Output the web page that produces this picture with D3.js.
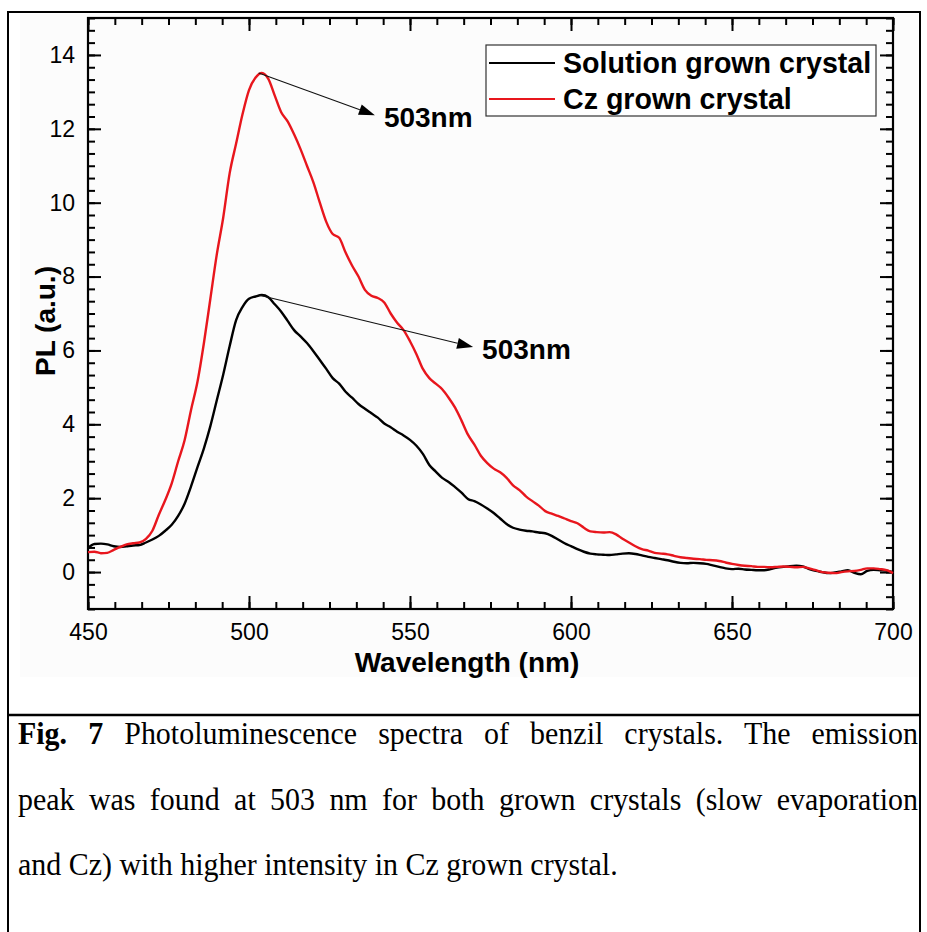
<!DOCTYPE html>
<html>
<head>
<meta charset="utf-8">
<script src="https://cdn.jsdelivr.net/npm/d3@7"></script>
<style>
  body { margin: 0; background: #fff; }
  svg { display: block; }
</style>
</head>
<body>
<svg id="chart" width="927" height="932"></svg>
<script>
// Photoluminescence spectra of benzil crystals
const wavelength = [
  450,452,454,456,458,460,462,464,466,468,470,472,474,476,478,480,482,484,486,488,
  490,492,494,496,498,500,502,504,506,508,510,512,514,516,518,520,522,524,526,528,
  530,532,534,536,538,540,542,544,546,548,550,552,554,556,558,560,562,564,566,568,
  570,572,574,576,578,580,582,584,586,588,590,592,594,596,598,600,602,604,606,608,
  610,612,614,616,618,620,622,624,626,628,630,632,634,636,638,640,642,644,646,648,
  650,652,654,656,658,660,662,664,666,668,670,672,674,676,678,680,682,684,686,688,
  690,692,694,696,698,700
];
const solutionPL = [
  0.65,0.76,0.77,0.75,0.70,0.68,0.70,0.72,0.73,0.80,0.88,0.98,1.12,1.28,1.52,1.85,2.32,2.84,3.35,3.95,
  4.65,5.35,6.12,6.82,7.18,7.40,7.46,7.50,7.44,7.25,7.05,6.80,6.55,6.38,6.20,5.98,5.74,5.50,5.25,5.10,
  4.88,4.72,4.55,4.42,4.30,4.18,4.02,3.92,3.80,3.70,3.58,3.42,3.20,2.90,2.72,2.55,2.44,2.30,2.15,1.98,
  1.92,1.83,1.72,1.60,1.45,1.30,1.20,1.15,1.12,1.10,1.07,1.05,0.98,0.88,0.78,0.70,0.62,0.55,0.50,0.48,
  0.47,0.46,0.48,0.50,0.51,0.49,0.45,0.41,0.38,0.35,0.32,0.28,0.25,0.24,0.25,0.24,0.22,0.18,0.14,0.10,
  0.08,0.09,0.07,0.06,0.05,0.05,0.08,0.12,0.14,0.16,0.17,0.15,0.08,0.03,0.00,-0.03,-0.01,0.02,0.05,-0.02,
  -0.06,0.03,0.06,0.05,0.04,0.00
];
const czPL = [
  0.54,0.55,0.51,0.52,0.60,0.68,0.75,0.78,0.80,0.90,1.12,1.55,1.95,2.40,3.00,3.57,4.39,5.15,6.20,7.40,
  8.60,9.60,10.80,11.60,12.40,13.05,13.38,13.51,13.35,12.90,12.45,12.20,11.85,11.45,11.00,10.55,10.00,9.48,9.15,9.05,
  8.65,8.30,8.00,7.64,7.48,7.42,7.30,7.00,6.75,6.55,6.25,5.90,5.50,5.25,5.10,4.95,4.72,4.45,4.10,3.72,
  3.45,3.15,2.95,2.80,2.70,2.55,2.35,2.22,2.05,1.92,1.80,1.65,1.58,1.52,1.45,1.38,1.32,1.20,1.10,1.08,
  1.07,1.08,1.02,0.90,0.80,0.70,0.62,0.58,0.52,0.50,0.48,0.44,0.40,0.38,0.36,0.35,0.33,0.32,0.30,0.26,
  0.22,0.19,0.17,0.16,0.14,0.14,0.13,0.14,0.15,0.14,0.13,0.14,0.10,0.05,0.00,-0.02,-0.03,0.00,0.02,0.03,
  0.06,0.10,0.10,0.08,0.05,-0.03
];
const seriesNames = ["Solution grown crystal", "Cz grown crystal"];
const xTickValues = [450, 500, 550, 600, 650, 700];
const yTickValues = [0, 2, 4, 6, 8, 10, 12, 14];
const peakWavelength = 503;
const peakLabel = "503nm";
// where each peak arrow ends, in (wavelength, PL) units
const arrowTips = [[539.1, 12.37], [569.6, 6.09]];
const xTitle = "Wavelength (nm)";
const yTitle = "PL (a.u.)";
const captionLines = [
  [{ text: "Fig. 7", bold: true }, { text: " Photoluminescence spectra of benzil crystals. The emission" }],
  [{ text: "peak was found at 503 nm for both grown crystals (slow evaporation" }],
  [{ text: "and Cz) with higher intensity in Cz grown crystal." }]
];

const svg = d3.select("#chart");
const sans = "'Liberation Sans', Arial, sans-serif";
const serif = "'Liberation Serif', 'Times New Roman', serif";
const RED = "#e8161d";

// outer frame and caption divider
svg.append("rect").attr("x", 20).attr("y", 14).attr("width", 898).attr("height", 663).attr("fill", "#fcfcfc");
svg.append("rect").attr("x", 8).attr("y", 12).attr("width", 912).attr("height", 940)
  .attr("fill", "none").attr("stroke", "#000").attr("stroke-width", 2);
svg.append("line").attr("x1", 8).attr("x2", 920).attr("y1", 715).attr("y2", 715)
  .attr("stroke", "#000").attr("stroke-width", 2.5);

const plot = { left: 88, right: 893, top: 18, bottom: 609 };
const x = d3.scaleLinear().domain([450, 700]).range([plot.left, plot.right]);
const y = d3.scaleLinear().domain([-1, 15]).range([plot.bottom, plot.top]);

const xMinor = d3.range(450, 700.001, 50 / 6);
const yMinor = d3.range(-1, 15.001, 1 / 3);

function styleAxis(g) {
  g.select(".domain").remove();
  g.selectAll(".tick line").attr("stroke", "#000").attr("stroke-width", 2);
  g.selectAll("text").attr("font-family", sans).attr("font-size", 23).attr("fill", "#000");
}

// bottom axis
svg.append("g").attr("transform", `translate(0,${plot.bottom})`)
  .call(d3.axisBottom(x).tickValues(xMinor).tickSize(-7).tickFormat(""))
  .call(styleAxis);
svg.append("g").attr("transform", `translate(0,${plot.bottom})`)
  .call(d3.axisBottom(x).tickValues(xTickValues).tickSize(-13).tickPadding(15).tickFormat(d3.format("d")))
  .call(styleAxis);
// top axis
svg.append("g").attr("transform", `translate(0,${plot.top})`)
  .call(d3.axisTop(x).tickValues(xMinor).tickSize(-7).tickFormat(""))
  .call(styleAxis);
svg.append("g").attr("transform", `translate(0,${plot.top})`)
  .call(d3.axisTop(x).tickValues(xTickValues).tickSize(-13).tickFormat(""))
  .call(styleAxis);
// left axis
svg.append("g").attr("transform", `translate(${plot.left},0)`)
  .call(d3.axisLeft(y).tickValues(yMinor).tickSize(-7).tickFormat(""))
  .call(styleAxis);
svg.append("g").attr("transform", `translate(${plot.left},0)`)
  .call(d3.axisLeft(y).tickValues(yTickValues).tickSize(-13).tickPadding(13).tickFormat(d3.format("d")))
  .call(styleAxis);
// right axis
svg.append("g").attr("transform", `translate(${plot.right},0)`)
  .call(d3.axisRight(y).tickValues(yMinor).tickSize(-7).tickFormat(""))
  .call(styleAxis);
svg.append("g").attr("transform", `translate(${plot.right},0)`)
  .call(d3.axisRight(y).tickValues(yTickValues).tickSize(-13).tickFormat(""))
  .call(styleAxis);

// plot frame
svg.append("rect").attr("x", plot.left).attr("y", plot.top)
  .attr("width", plot.right - plot.left).attr("height", plot.bottom - plot.top)
  .attr("fill", "none").attr("stroke", "#000").attr("stroke-width", 2.2);

// spectra
const line = d3.line().x((d, i) => x(wavelength[i])).y(d => y(d)).curve(d3.curveMonotoneX);
svg.append("path").datum(solutionPL).attr("d", line)
  .attr("fill", "none").attr("stroke", "#000").attr("stroke-width", 2.4).attr("stroke-linejoin", "round");
svg.append("path").datum(czPL).attr("d", line)
  .attr("fill", "none").attr("stroke", RED).attr("stroke-width", 2.4).attr("stroke-linejoin", "round");

// peak arrows and labels
const peaks = [d3.max(czPL), d3.max(solutionPL)];
peaks.forEach((pk, i) => {
  const x0 = x(peakWavelength), y0 = y(pk);
  const x1 = x(arrowTips[i][0]), y1 = y(arrowTips[i][1]);
  const ang = Math.atan2(y1 - y0, x1 - x0);
  const len = 16, half = 5.5;
  const bx = x1 - len * Math.cos(ang), by = y1 - len * Math.sin(ang);
  svg.append("line").attr("x1", x0).attr("y1", y0).attr("x2", bx).attr("y2", by)
    .attr("stroke", "#111").attr("stroke-width", 1.1);
  const pts = [
    [x1, y1],
    [bx + half * Math.sin(ang), by - half * Math.cos(ang)],
    [bx - half * Math.sin(ang), by + half * Math.cos(ang)]
  ];
  svg.append("polygon").attr("points", pts.map(p => p.join(",")).join(" ")).attr("fill", "#000");
  svg.append("text").attr("x", x1 + 9).attr("y", y1 + 12)
    .attr("font-family", sans).attr("font-weight", "bold").attr("font-size", 28)
    .text(peakLabel);
});

// legend
const legend = svg.append("g");
legend.append("rect").attr("x", 486).attr("y", 45).attr("width", 390).attr("height", 71)
  .attr("fill", "#fff").attr("stroke", "#333").attr("stroke-width", 1.2);
[["#000", 63], [RED, 99]].forEach(([c, ly], i) => {
  legend.append("line").attr("x1", 489).attr("x2", 555).attr("y1", ly).attr("y2", ly)
    .attr("stroke", c).attr("stroke-width", 1.8);
  legend.append("text").attr("x", 563).attr("y", ly + 10)
    .attr("font-family", sans).attr("font-weight", "bold").attr("font-size", 28.6)
    .text(seriesNames[i]);
});

// axis titles
svg.append("text").attr("x", 467).attr("y", 672).attr("text-anchor", "middle")
  .attr("font-family", sans).attr("font-weight", "bold").attr("font-size", 28)
  .text(xTitle);
svg.append("text").attr("transform", "translate(55,321) rotate(-90)").attr("text-anchor", "middle")
  .attr("font-family", sans).attr("font-weight", "bold").attr("font-size", 28)
  .text(yTitle);

// caption: justified paragraph in a serif face, slightly condensed
const capBase = [744, 810, 875];
const capTexts = captionLines.map((segs, i) => {
  const t = svg.append("text").attr("x", 0).attr("y", 0)
    .attr("font-family", serif).attr("font-size", 31).attr("fill", "#000");
  segs.forEach(s => t.append("tspan").attr("font-weight", s.bold ? "bold" : "normal").text(s.text));
  return t;
});
const lastW = capTexts[2].node().getComputedTextLength();
const sx = 600 / lastW;
capTexts.forEach((t, i) => {
  t.attr("transform", `translate(18,${capBase[i]}) scale(${sx},1)`);
  if (i < 2) {
    const w = t.node().getComputedTextLength();
    const full = captionLines[i].map(s => s.text).join("");
    const gaps = (full.match(/ /g) || []).length;
    t.attr("word-spacing", (900 / sx - w) / gaps);
  }
});
</script>
</body>
</html>
